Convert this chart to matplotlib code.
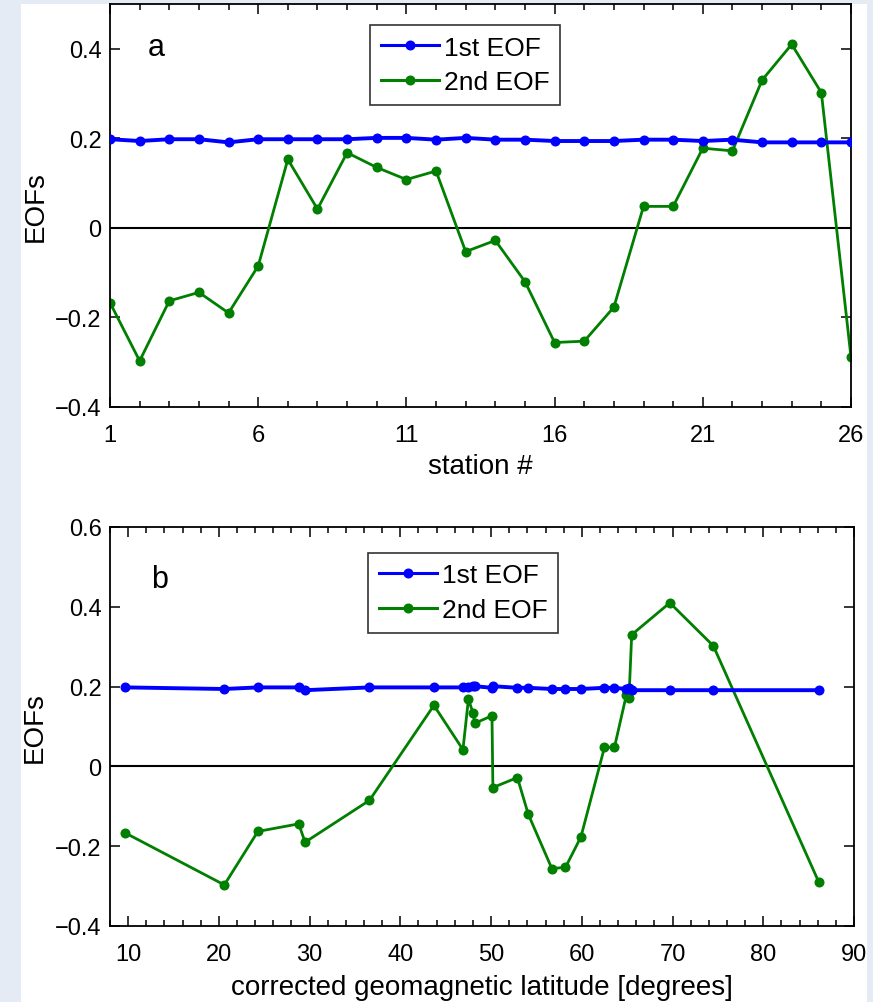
import matplotlib
matplotlib.use('Agg')
import matplotlib.pyplot as plt
from matplotlib.patches import Rectangle
from matplotlib.ticker import MultipleLocator, FuncFormatter, FixedLocator

plt.rcParams['font.family'] = ['Liberation Sans', 'DejaVu Sans']

# station numbers and their corrected geomagnetic latitudes
stations = list(range(1, 27))
latitudes = [9.7, 20.6, 24.3, 28.8, 29.5, 36.6, 43.7, 46.9, 47.5, 48.0,
             48.2, 50.1, 50.2, 52.9, 54.1, 56.7, 58.2, 59.9, 62.5, 63.6,
             64.9, 65.2, 65.5, 69.7, 74.5, 86.1]

# EOF loadings
eof1 = [0.198, 0.194, 0.198, 0.198, 0.191, 0.198, 0.198, 0.198, 0.198, 0.201,
        0.201, 0.197, 0.201, 0.197, 0.197, 0.194, 0.194, 0.194, 0.197, 0.197,
        0.194, 0.197, 0.191, 0.191, 0.191, 0.191]
eof2 = [-0.167, -0.297, -0.163, -0.144, -0.190, -0.085, 0.153, 0.042, 0.168, 0.135,
        0.108, 0.127, -0.053, -0.028, -0.120, -0.256, -0.253, -0.177, 0.048, 0.048,
        0.178, 0.172, 0.330, 0.410, 0.302, -0.289]

blue = '#0000ff'
green = '#007f00'


def fmt(v, pos):
    s = '%g' % round(v, 3)
    return s.replace('-', '\u2212')


fig = plt.figure(figsize=(8.73, 10.03), dpi=100, facecolor='#e4ebf5')
bg = Rectangle((21 / 873, 0), 846 / 873, 998 / 1003,
               transform=fig.transFigure, facecolor='white',
               edgecolor='none', zorder=-10)
fig.patches.append(bg)

ax1 = fig.add_axes([110 / 873, 595 / 1003, 741 / 873, 403 / 1003])
ax2 = fig.add_axes([110 / 873, 76 / 1003, 744 / 873, 399 / 1003])

for ax, xs in ((ax1, stations), (ax2, latitudes)):
    ax.axhline(0, color='black', lw=1.5, zorder=1)
    ax.plot(xs, eof1, '-o', color=blue, lw=2.8, ms=6.2, label='1st EOF', zorder=3)
    ax.plot(xs, eof2, '-o', color=green, lw=2.0, ms=6.2, label='2nd EOF', zorder=2)
    for sp in ax.spines.values():
        sp.set_linewidth(1.3)
    ax.tick_params(which='both', direction='in', top=True, right=True,
                   labelsize=17, width=1.1)
    ax.tick_params(axis='x', which='major', pad=12)
    ax.tick_params(axis='y', which='major', pad=6)
    ax.tick_params(which='major', length=7)
    ax.tick_params(which='minor', length=4)
    ax.yaxis.set_major_formatter(FuncFormatter(fmt))
    ax.set_ylabel('EOFs', fontsize=20)
    ax.yaxis.set_label_coords(-0.083, 0.5)
    leg = ax.legend(loc='upper left', fontsize=19, frameon=True, fancybox=False,
                    edgecolor='black', handlelength=2.2, borderpad=0.4,
                    labelspacing=0.4, handletextpad=0.2, borderaxespad=0)
    leg.get_frame().set_linewidth(1.2)
    for h in leg.get_lines():
        h.set_linewidth(2.2)

# panel a
ax1.set_xlim(1, 26)
ax1.set_ylim(-0.4, 0.5)
ax1.xaxis.set_major_locator(FixedLocator([1, 6, 11, 16, 21, 26]))
ax1.xaxis.set_minor_locator(MultipleLocator(1))
ax1.yaxis.set_major_locator(FixedLocator([-0.4, -0.2, 0, 0.2, 0.4]))
ax1.set_xlabel('station #', fontsize=20)
ax1.xaxis.set_label_coords(0.5, -0.115)
ax1.text(0.063, 0.893, 'a', transform=ax1.transAxes, fontsize=22,
         ha='center', va='center')
ax1.get_legend().set_bbox_to_anchor((0.351, 0.948))

# panel b
ax2.set_xlim(8, 90)
ax2.set_ylim(-0.4, 0.6)
ax2.xaxis.set_major_locator(MultipleLocator(10))
ax2.xaxis.set_minor_locator(MultipleLocator(2))
ax2.yaxis.set_major_locator(FixedLocator([-0.4, -0.2, 0, 0.2, 0.4, 0.6]))
ax2.set_xlabel('corrected geomagnetic latitude [degrees]', fontsize=20)
ax2.xaxis.set_label_coords(0.5, -0.12)
ax2.text(0.067, 0.87, 'b', transform=ax2.transAxes, fontsize=22,
         ha='center', va='center')
ax2.get_legend().set_bbox_to_anchor((0.347, 0.935))

fig.savefig('out.png', dpi=100, facecolor=fig.get_facecolor())
